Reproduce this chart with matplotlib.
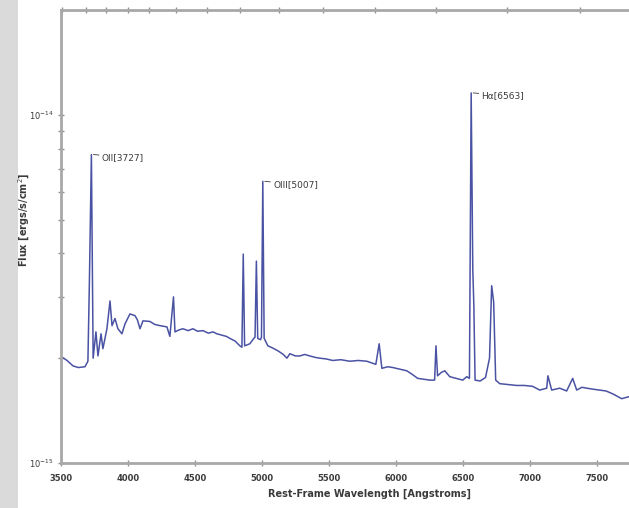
import matplotlib.pyplot as plt
from matplotlib.patches import Rectangle

# spectrum (flux in units of 1e-15 ergs/s/cm^2)
wavelength = [3500, 3520, 3545, 3570, 3590, 3630, 3679, 3701, 3712, 3727,
              3740, 3761, 3776, 3799, 3813, 3843, 3866, 3881, 3903, 3925,
              3955, 3978, 4015, 4052, 4070, 4090, 4112, 4164, 4200, 4239,
              4291, 4313, 4340, 4351, 4380, 4410, 4450, 4485, 4520, 4560,
              4600, 4635, 4664, 4700, 4735, 4761, 4800, 4836, 4851, 4861,
              4871, 4910, 4940, 4949, 4959, 4969, 4990, 4997, 5007, 5017,
              5045, 5080, 5120, 5160, 5187, 5209, 5250, 5284, 5320, 5358,
              5400, 5433, 5480, 5530, 5590, 5657, 5720, 5784, 5851, 5876,
              5896, 5940, 5978, 6030, 6082, 6120, 6164, 6210, 6254, 6290,
              6300, 6312, 6340, 6366, 6403, 6450, 6500, 6530, 6550, 6563,
              6575, 6583, 6592, 6630, 6670, 6700, 6716, 6731, 6746, 6776,
              6840, 6903, 6960, 7022, 7075, 7127, 7136, 7164, 7224, 7276,
              7321, 7351, 7390, 7426, 7470, 7522, 7570, 7620, 7687, 7739,
              7800]
flux = [2.02, 2.00, 1.97, 1.93, 1.90, 1.88, 1.89, 1.96, 3.30, 7.69,
        2.00, 2.38, 2.03, 2.35, 2.13, 2.43, 2.92, 2.48, 2.60, 2.43,
        2.35, 2.51, 2.68, 2.65, 2.58, 2.43, 2.56, 2.55, 2.50, 2.48,
        2.46, 2.31, 3.00, 2.38, 2.41, 2.43, 2.40, 2.43, 2.39, 2.40,
        2.36, 2.38, 2.35, 2.33, 2.31, 2.28, 2.24, 2.17, 2.15, 3.98,
        2.17, 2.20, 2.28, 2.30, 3.80, 2.28, 2.26, 2.30, 6.44, 2.28,
        2.17, 2.14, 2.10, 2.05, 2.00, 2.06, 2.03, 2.03, 2.05, 2.03,
        2.01, 2.00, 1.99, 1.97, 1.98, 1.96, 1.97, 1.96, 1.92, 2.20,
        1.87, 1.89, 1.88, 1.86, 1.84, 1.80, 1.75, 1.74, 1.73, 1.73,
        2.17, 1.78, 1.82, 1.84, 1.77, 1.75, 1.73, 1.77, 1.75, 11.56,
        3.60, 2.83, 1.73, 1.72, 1.76, 2.00, 3.23, 2.90, 1.73, 1.69,
        1.68, 1.67, 1.67, 1.66, 1.62, 1.64, 1.78, 1.62, 1.64, 1.61,
        1.75, 1.62, 1.65, 1.64, 1.63, 1.62, 1.61, 1.58, 1.53, 1.55,
        1.54]

line_names = ['OII[3727]', 'OIII[5007]', 'H\u03b1[6563]']
line_wave = [3727, 5007, 6563]
line_flux = [7.69, 6.44, 11.56]

x_ticks = [3500, 4000, 4500, 5000, 5500, 6000, 6500, 7000, 7500]
top_ticks = [3507, 3687, 3836, 4000, 4157, 4358, 4590, 4836, 5127, 5455,
             5843, 6299, 6828, 7373, 7950]
y_major = [1e-15, 1e-14]
y_minor = [2e-15, 3e-15, 4e-15, 5e-15, 6e-15, 7e-15, 8e-15, 9e-15]

grey = '#a8a8a8'
ink = '#3a3a3a'

fig = plt.figure(figsize=(6.29, 5.08), dpi=100)
fig.patch.set_facecolor('white')
fig.patches.append(Rectangle((0, 0), 18 / 629, 1, transform=fig.transFigure,
                             facecolor='#dadada', edgecolor='none', zorder=0))

# axes run past the right edge, the picture is cropped there
ax = fig.add_axes([61 / 629, 45 / 508, 616 / 629, 453 / 508])
ax.plot(wavelength, [f * 1e-15 for f in flux], color='#4a52a3', lw=1.1)

ax.set_yscale('log')
ax.set_xlim(3500, 8100)
ax.set_ylim(1e-15, 2e-14)

for s in ['left', 'top', 'bottom']:
    ax.spines[s].set_color(grey)
    ax.spines[s].set_linewidth(2)
ax.spines['right'].set_visible(False)

ax.set_xticks(x_ticks)
ax.set_xticklabels([str(t) for t in x_ticks], fontsize=6, color=ink,
                   fontweight='bold')
ax.set_yticks(y_major)
ax.set_yticklabels(['$10^{-15}$', '$10^{-14}$'], fontsize=6, color=ink)
ax.set_yticks(y_minor, minor=True)
ax.set_yticklabels([], minor=True)
ax.tick_params(axis='both', which='both', direction='inout', length=4,
               width=1, color='#909090', pad=3)
ax.tick_params(axis='x', pad=6)

top = ax.secondary_xaxis('top')
top.set_xticks(top_ticks)
top.set_xticklabels([])
top.tick_params(direction='inout', length=4, width=1, color='#909090')
top.spines['top'].set_visible(False)

for name, w, f in zip(line_names, line_wave, line_flux):
    ax.annotate(name, xy=(w + 15, f * 1e-15), xytext=(6, -2),
                textcoords='offset points', fontsize=6.5, color=ink,
                va='center', ha='left',
                arrowprops=dict(arrowstyle='-', lw=0.6, color=ink,
                                shrinkA=0, shrinkB=0))

ax.set_xlabel('Rest-Frame Wavelength [Angstroms]', fontsize=7,
              fontweight='bold', color=ink, labelpad=4)
fig.text(24 / 629, 1 - 220 / 508, 'Flux [ergs/s/cm$^2$]', rotation=90,
         fontsize=7, fontweight='bold', color=ink, ha='center', va='center')

fig.savefig('out.png', dpi=100)
